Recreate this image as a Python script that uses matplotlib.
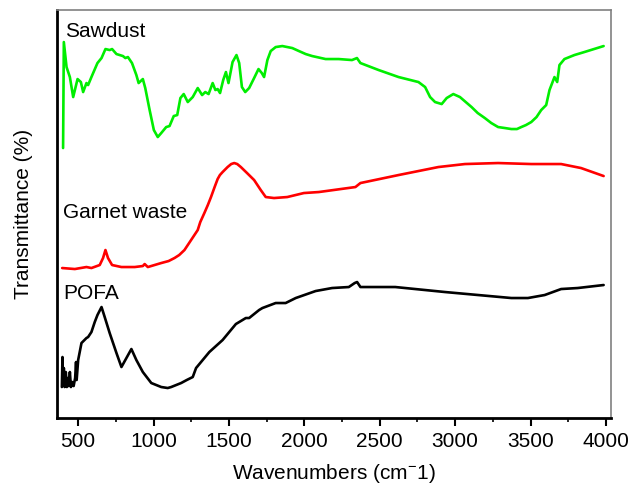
import numpy as np
import matplotlib
matplotlib.use("Agg")
import matplotlib.pyplot as plt
from matplotlib.ticker import MultipleLocator

plt.rcParams["font.family"] = ["Liberation Sans", "DejaVu Sans"]
plt.rcParams["mathtext.fontset"] = "custom"
plt.rcParams["mathtext.rm"] = "Liberation Sans"
plt.rcParams["mathtext.default"] = "regular"

# ==========================================
# Data (wavenumber, transmittance in offset a.u.)
# ==========================================

sawdust_wn = [400, 405, 423, 445, 467, 496, 518, 533, 555, 566, 588, 628, 655, 681,
              709, 725, 754, 797, 813, 830, 857, 886, 901, 929, 945, 974, 1002, 1028,
              1051, 1084, 1106, 1134, 1157, 1178, 1200, 1227, 1260, 1293, 1322, 1343,
              1365, 1392, 1410, 1425, 1441, 1462, 1480, 1497, 1524, 1550, 1568, 1586,
              1608, 1634, 1667, 1696, 1718, 1733, 1755, 1777, 1810, 1854, 1920, 1964,
              2009, 2052, 2141, 2228, 2316, 2349, 2372, 2493, 2625, 2757, 2801, 2834,
              2867, 2911, 2944, 2988, 3032, 3109, 3150, 3197, 3240, 3285, 3330, 3373,
              3410, 3439, 3470, 3505, 3540, 3571, 3604, 3626, 3659, 3677, 3692, 3725,
              3791, 3857, 3985]
sawdust_t = [270, 376, 351, 341, 321, 339, 336, 326, 335, 333, 341, 355, 360, 369,
             368, 369, 364, 362, 360, 361, 355, 343, 335, 339, 330, 308, 288, 281,
             285, 291, 292, 302, 303, 320, 324, 316, 321, 330, 323, 326,
             324, 335, 328, 329, 325, 338, 346, 335, 356, 363, 355, 331,
             326, 330, 340, 349, 345, 341, 358, 367, 371, 372, 370, 367,
             364, 362, 359, 359, 358, 360, 355, 348, 341, 336, 331, 321,
             316, 314, 320, 324, 321, 311, 305, 300, 295, 291, 290, 289,
             289, 291, 293, 296, 301, 308, 313, 328, 341, 336, 353, 359,
             363, 366, 372]

garnet_wn = [394, 478, 555, 588, 643, 665, 681, 698, 725, 787, 875, 929, 941, 962,
             1051, 1100, 1139, 1170, 1205, 1249, 1293, 1310, 1337, 1360, 1381, 1405,
             1425, 1440, 1458, 1491, 1515, 1535, 1555, 1579, 1620, 1667, 1711, 1744,
             1799, 1887, 1997, 2096, 2339, 2372, 2625, 2889, 3065, 3285, 3505, 3703,
             3835, 3985]
garnet_t = [150, 149, 151, 150, 153, 160, 168, 160, 153, 151, 151, 152, 154, 151,
            155, 157, 160, 163, 168, 178, 188, 196, 205, 213, 221, 231,
            239, 243, 246, 251, 254, 255, 254, 251, 245, 238, 228, 221,
            220, 221, 225, 226, 231, 235, 243, 251, 254, 255, 254, 254,
            250, 242]

pofa_wn = [392, 396, 400, 405, 410, 418, 425, 432, 438, 445, 452, 460, 470, 480,
           486, 490, 500, 522, 555, 566, 588, 610, 628, 655, 676, 709, 754, 787,
           820, 853, 886, 929, 985, 1051, 1094, 1117, 1150, 1183, 1220, 1260, 1282,
           1348, 1370, 1436, 1458, 1546, 1557, 1612, 1634, 1700, 1722, 1810, 1876,
           1943, 2075, 2184, 2295, 2334, 2350, 2372, 2603, 2933, 3153, 3373, 3483,
           3594, 3703, 3813, 3985]
pofa_t = [31, 61, 33, 50, 31, 46, 31, 40, 32, 46, 31, 36, 32, 40,
          56, 38, 58, 75, 80, 81, 86, 96, 103, 111, 101, 85, 65, 51,
          60, 69, 58, 46, 35, 31, 30, 31, 33, 35, 38, 41, 50,
          62, 66, 75, 78, 94, 95, 100, 100, 108, 110, 115, 115,
          120, 127, 130, 131, 135, 136, 131, 131, 126, 123, 120, 120,
          123, 129, 130, 133]

labels = ["Sawdust", "Garnet waste", "POFA"]
label_pos = [(412, 387), (399, 206), (399, 125)]

# ==========================================
# Plot
# ==========================================

fig = plt.figure(figsize=(6.41, 4.88), dpi=100)
ax = fig.add_axes([0.089, 0.1434, 0.864, 0.836])

line_kw = dict(lw=1.9, solid_joinstyle="round", solid_capstyle="round")
ax.plot(sawdust_wn, sawdust_t, color="#00ee00", **line_kw)
ax.plot(garnet_wn, garnet_t, color="#ff0000", **line_kw)
ax.plot(pofa_wn, pofa_t, color="black", **line_kw)

for txt, (x, y) in zip(labels, label_pos):
    ax.text(x, y, txt, fontsize=15, va="center", ha="left")

ax.set_xlim(360, 4033)
ax.set_ylim(0, 408)

ax.xaxis.set_major_locator(MultipleLocator(500))
ax.xaxis.set_minor_locator(MultipleLocator(250))
ax.tick_params(axis="x", which="major", direction="out", length=6, width=1.5,
               labelsize=15, pad=4)
ax.tick_params(axis="x", which="minor", direction="out", length=3, width=1.2)
ax.set_yticks([])

ax.spines["left"].set_linewidth(2)
ax.spines["bottom"].set_linewidth(2)
ax.spines["top"].set_color("#808080")
ax.spines["right"].set_color("#808080")
ax.spines["top"].set_linewidth(1.2)
ax.spines["right"].set_linewidth(1.2)

ax.set_xlabel("Wavenumbers (cm$^{-}$1)", fontsize=15, labelpad=8)
ax.set_ylabel("Transmittance (%)", fontsize=15, labelpad=17)

fig.savefig("out.png", dpi=100)
